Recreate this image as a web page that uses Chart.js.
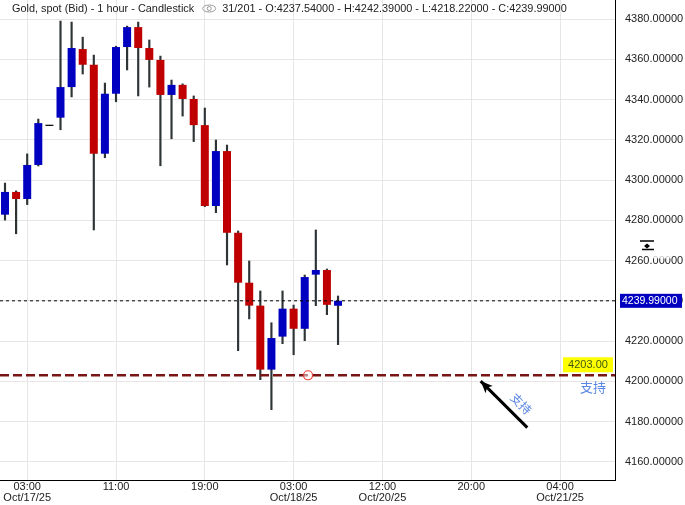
<!DOCTYPE html>
<html>
<head>
<meta charset="utf-8">
<script src="https://cdn.jsdelivr.net/npm/chart.js@4/dist/chart.umd.min.js"></script>
<style>
  html, body { margin: 0; padding: 0; background: #fff; }
  canvas { display: block; }
</style>
</head>
<body>
<canvas id="goldChart" width="685" height="505"></canvas>
<script>
// hourly candles, Oct 17 01:00 onwards
var opens  = [4282.8, 4294.1, 4290.6, 4307.5, 4327.2, 4331.0, 4346.2, 4365.1, 4357.3, 4313.1,
              4342.9, 4366.1, 4376.0, 4365.6, 4359.7, 4342.3, 4347.3, 4340.3, 4327.3, 4287.1,
              4314.4, 4273.8, 4249.0, 4237.6, 4205.8, 4222.2, 4236.1, 4226.1, 4253.0, 4255.3, 4237.54];
var highs  = [4298.5, 4294.6, 4313.0, 4330.3, 4327.2, 4379.0, 4378.5, 4371.0, 4362.1, 4348.2,
              4366.5, 4376.5, 4378.5, 4369.6, 4361.6, 4349.7, 4347.8, 4341.8, 4335.8, 4319.9,
              4317.4, 4274.7, 4259.8, 4244.9, 4229.1, 4244.9, 4237.9, 4252.8, 4275.2, 4255.8, 4242.39];
var lows   = [4280.1, 4273.3, 4287.8, 4307.0, 4327.2, 4325.0, 4341.3, 4352.7, 4275.2, 4311.1,
              4338.9, 4354.7, 4341.8, 4346.2, 4307.1, 4320.5, 4331.8, 4319.1, 4286.8, 4283.8,
              4257.8, 4215.2, 4231.0, 4200.8, 4185.9, 4218.7, 4213.2, 4220.2, 4237.6, 4233.1, 4218.22];
var closes = [4294.1, 4290.6, 4307.5, 4328.3, 4327.2, 4346.2, 4365.6, 4357.3, 4313.1, 4342.9,
              4366.1, 4376.0, 4365.6, 4359.7, 4342.3, 4347.3, 4340.3, 4327.3, 4287.1, 4314.4,
              4273.8, 4249.0, 4237.6, 4205.8, 4221.5, 4236.1, 4226.1, 4251.8, 4255.3, 4238.0, 4239.99];

var tickIdx  = [2, 10, 18, 26, 34, 42, 50];
var tickTime = ['03:00', '11:00', '19:00', '03:00', '12:00', '20:00', '04:00'];
var tickDate = ['Oct/17/25', '', '', 'Oct/18/25', 'Oct/20/25', '', 'Oct/21/25'];

var supportLevel = 4203.00;
var supportMark  = {x: 27.3, y: 4203};
var arrowTail = {x: 47.05, y: 4177.0};
var arrowTip  = {x: 42.85, y: 4200.1};
var arrowText = {x: 46.5, y: 4188.8};

var title = 'Gold, spot (Bid) - 1 hour - Candlestick';
var info  = '31/201 - O:4237.54000 - H:4242.39000 - L:4218.22000 - C:4239.99000';

var BLUE = '#0000C0', RED = '#C00000';
var FONT = '"Liberation Sans", Arial, sans-serif';

var last = closes[closes.length - 1];

var bodies = [], wicks = [], bodyColors = [];
for (var i = 0; i < opens.length; i++) {
	var o = opens[i], c = closes[i];
	if (o === c) {
		bodies.push({x: i, y: [o - 0.3, o + 0.3]});
		bodyColors.push('#000');
	} else {
		bodies.push({x: i, y: [o, c]});
		bodyColors.push(c > o ? BLUE : RED);
	}
	wicks.push({x: i, y: [lows[i], highs[i]]});
}

var xMin = -0.45, xMax = 54.95;

function noPad(s) {
	s.paddingTop = 0; s.paddingBottom = 0; s.paddingLeft = 0; s.paddingRight = 0;
}

var overlay = {
	id: 'overlay',
	afterDatasetsDraw: function(chart) {
		var ctx = chart.ctx, x = chart.scales.x, y = chart.scales.y, area = chart.chartArea;
		ctx.save();

		// arrow head
		var tx = x.getPixelForValue(arrowTip.x), ty = y.getPixelForValue(arrowTip.y);
		var sx = x.getPixelForValue(arrowTail.x), sy = y.getPixelForValue(arrowTail.y);
		var ang = Math.atan2(ty - sy, tx - sx);
		ctx.fillStyle = '#000';
		ctx.beginPath();
		ctx.moveTo(tx, ty);
		ctx.lineTo(tx - 13 * Math.cos(ang - 0.4), ty - 13 * Math.sin(ang - 0.4));
		ctx.lineTo(tx - 9 * Math.cos(ang), ty - 9 * Math.sin(ang));
		ctx.lineTo(tx - 13 * Math.cos(ang + 0.4), ty - 13 * Math.sin(ang + 0.4));
		ctx.closePath();
		ctx.fill();

		// rotated label next to arrow
		ctx.save();
		ctx.translate(x.getPixelForValue(arrowText.x), y.getPixelForValue(arrowText.y));
		ctx.rotate(ang + Math.PI);
		ctx.font = '12px "Noto Sans CJK SC", sans-serif';
		ctx.fillStyle = '#5A86E6';
		ctx.textAlign = 'center';
		ctx.textBaseline = 'middle';
		ctx.fillText('支持', 0, 0);
		ctx.restore();

		// support price tag
		var py = y.getPixelForValue(supportLevel);
		ctx.fillStyle = '#FFFF00';
		ctx.fillRect(area.right - 52, py - 18, 50, 15);
		ctx.font = '11px ' + FONT;
		ctx.fillStyle = '#3F5A10';
		ctx.textAlign = 'center';
		ctx.textBaseline = 'middle';
		ctx.fillText(supportLevel.toFixed(2), area.right - 27, py - 10);
		ctx.font = '13px "Noto Sans CJK SC", sans-serif';
		ctx.fillStyle = '#5A86E6';
		ctx.fillText('支持', area.right - 22, py + 12);

		// last price tag on the axis
		var ly = y.getPixelForValue(last);
		ctx.fillStyle = BLUE;
		ctx.fillRect(area.right + 5, ly - 7, 62, 14);
		ctx.font = '10.5px ' + FONT;
		ctx.fillStyle = '#fff';
		ctx.textAlign = 'left';
		ctx.fillText(last.toFixed(5), area.right + 7, ly + 0.5);

		ctx.restore();
	},
	afterDraw: function(chart) {
		var ctx = chart.ctx, y = chart.scales.y, area = chart.chartArea;
		ctx.save();
		ctx.font = '10.9px ' + FONT;
		ctx.fillStyle = '#222';
		ctx.textBaseline = 'middle';
		ctx.textAlign = 'left';
		ctx.fillText(title, 12, 8.5);
		var w = ctx.measureText(title).width;
		var ex = 12 + w + 15;
		ctx.strokeStyle = '#999';
		ctx.lineWidth = 1;
		ctx.beginPath();
		ctx.ellipse(ex, 8.5, 6.5, 3.5, 0, 0, Math.PI * 2);
		ctx.stroke();
		ctx.beginPath();
		ctx.arc(ex, 8.5, 2, 0, Math.PI * 2);
		ctx.stroke();
		ctx.fillText(info, ex + 13, 8.5);

		// small scroll control on the price axis
		var iy = y.getPixelForValue(4270);
		var ix = area.right + 32;
		ctx.fillStyle = 'rgba(255,255,255,0.75)';
		ctx.fillRect(ix + 6, iy + 12, 18, 6);
		ctx.strokeStyle = '#000';
		ctx.lineWidth = 1.5;
		ctx.beginPath();
		ctx.moveTo(ix - 7, iy + 0.5); ctx.lineTo(ix + 7, iy + 0.5);
		ctx.moveTo(ix - 5, iy + 9); ctx.lineTo(ix + 7, iy + 9);
		ctx.stroke();
		ctx.fillStyle = '#000';
		ctx.beginPath();
		ctx.moveTo(ix, iy + 3); ctx.lineTo(ix + 3, iy + 5.5); ctx.lineTo(ix, iy + 8); ctx.lineTo(ix - 3, iy + 5.5);
		ctx.closePath();
		ctx.fill();
		ctx.restore();
	}
};

var ctx = document.getElementById('goldChart').getContext('2d');
var chart = new Chart(ctx, {
	type: 'bar',
	data: {
		datasets: [{
			label: 'body',
			data: bodies,
			backgroundColor: bodyColors,
			borderWidth: 0,
			barPercentage: 0.72,
			categoryPercentage: 1,
			grouped: false,
			order: 2
		}, {
			label: 'wick',
			data: wicks,
			backgroundColor: '#2E3436',
			borderWidth: 0,
			barThickness: 1.5,
			grouped: false,
			order: 3
		}, {
			type: 'line',
			label: 'last',
			data: [{x: xMin, y: last}, {x: xMax, y: last}],
			borderColor: '#000',
			borderWidth: 1,
			borderDash: [3, 3],
			pointRadius: 0,
			order: 1
		}, {
			type: 'line',
			label: 'support',
			data: [{x: xMin, y: supportLevel}, {x: xMax, y: supportLevel}],
			borderColor: '#7A1515',
			borderWidth: 2.5,
			borderDash: [9, 4],
			pointRadius: 0,
			order: 1
		}, {
			type: 'line',
			label: 'arrow',
			data: [arrowTail, arrowTip],
			borderColor: '#000',
			borderWidth: 3,
			pointRadius: 0,
			order: 1
		}, {
			type: 'line',
			label: 'mark',
			data: [supportMark],
			showLine: false,
			pointRadius: 4.5,
			pointBorderColor: '#E8403A',
			pointBackgroundColor: 'rgba(255,255,255,0.5)',
			pointBorderWidth: 1.2,
			order: 0
		}]
	},
	options: {
		responsive: false,
		animation: false,
		layout: { padding: 0, autoPadding: false },
		plugins: { legend: { display: false }, tooltip: { enabled: false }, title: { display: false } },
		scales: {
			x: {
				type: 'linear',
				min: xMin,
				max: xMax,
				offset: false,
				grid: { color: '#E6E6E6', offset: false, drawTicks: false },
				border: { color: '#000', width: 1 },
				afterBuildTicks: function(s) {
					s.ticks = tickIdx.map(function(v) { return {value: v}; });
				},
				afterFit: function(s) { s.height = 25; noPad(s); },
				ticks: {
					autoSkip: false,
					maxRotation: 0,
					padding: 2,
					color: '#222',
					font: { family: FONT, size: 11, lineHeight: 0.95 },
					callback: function(v) {
						var k = tickIdx.indexOf(v);
						if (k < 0) return '';
						return tickDate[k] ? [tickTime[k], tickDate[k]] : tickTime[k];
					}
				}
			},
			y: {
				type: 'linear',
				position: 'right',
				min: 4150.96,
				max: 4389.47,
				grid: { color: '#E6E6E6', drawTicks: false },
				border: { color: '#000', width: 1 },
				afterFit: function(s) { s.width = 70; noPad(s); },
				ticks: {
					stepSize: 20,
					includeBounds: false,
					padding: 10,
					color: '#222',
					font: { family: FONT, size: 11 },
					callback: function(v) { return v.toFixed(5); }
				}
			}
		}
	},
	plugins: [overlay]
});
</script>
</body>
</html>
